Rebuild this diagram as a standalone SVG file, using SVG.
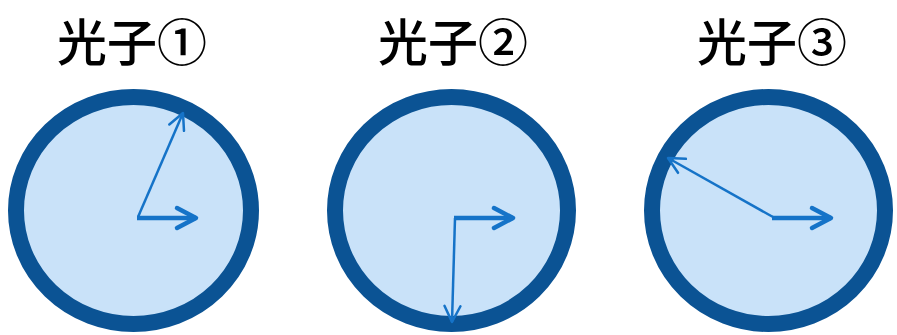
<svg xmlns="http://www.w3.org/2000/svg" width="897" height="335" viewBox="0 0 897 335">
<style>
.ring{fill:#C9E2F9;stroke:#0B5394;stroke-width:16}
.title{font-family:"Noto Sans CJK JP","Noto Sans CJK SC",sans-serif;font-size:50px;font-weight:500;fill:#000;text-anchor:middle}
.thick{stroke:#1573C8;stroke-width:4.5;fill:none;marker-end:url(#hThick)}
.thin{stroke:#1573C8;stroke-width:2.5;fill:none;marker-end:url(#hThin)}
</style>
<defs>
<marker id="hThick" markerUnits="userSpaceOnUse" viewBox="-24 -14 28 28" refX="0" refY="0" markerWidth="28" markerHeight="28" orient="auto" overflow="visible">
<path d="M-19,-10 L0,0 L-19,10" fill="none" stroke="#1573C8" stroke-width="4.5" stroke-linecap="round" stroke-linejoin="round"/>
</marker>
<marker id="hThin" markerUnits="userSpaceOnUse" viewBox="-20 -12 24 24" refX="0" refY="0" markerWidth="24" markerHeight="24" orient="auto" overflow="visible">
<path d="M-16,-8 L0,0 L-16,8" fill="none" stroke="#1573C8" stroke-width="2.5" stroke-linecap="round" stroke-linejoin="round"/>
</marker>
</defs>
<g id="photon1">
<text class="title" x="132" y="61">光子①</text>
<ellipse class="ring" cx="133.5" cy="210.5" rx="117.5" ry="113.5"/>
</g>
<g id="photon2">
<text class="title" x="453" y="61">光子②</text>
<ellipse class="ring" cx="451.5" cy="210.5" rx="116.5" ry="113.5"/>
</g>
<g id="photon3">
<text class="title" x="772" y="61">光子③</text>
<ellipse class="ring" cx="768.5" cy="210.5" rx="116.5" ry="113.5"/>
</g>
<g id="connectors">
<line class="thin" x1="138" y1="217" x2="183" y2="113"/>
<line class="thick" x1="137" y1="218" x2="196" y2="218"/>
<line class="thin" x1="455" y1="218" x2="452" y2="322"/>
<line class="thick" x1="454" y1="218" x2="513" y2="218"/>
<line class="thin" x1="773" y1="217" x2="668" y2="158"/>
<line class="thick" x1="772" y1="218" x2="831" y2="218"/>
</g>
</svg>
